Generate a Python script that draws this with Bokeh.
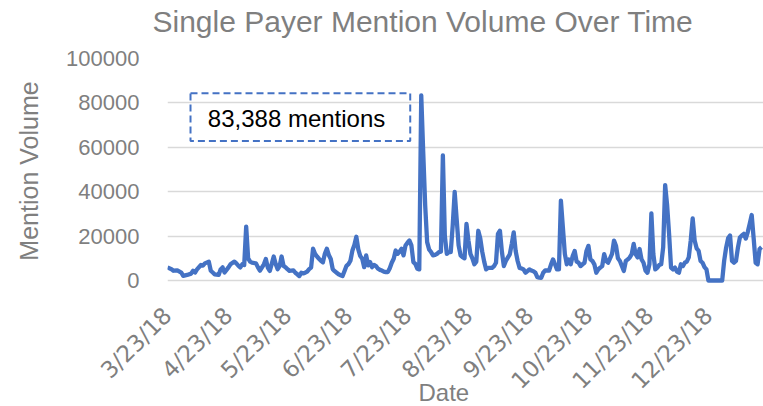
import pandas as pd
from bokeh.plotting import figure
from bokeh.models import Range1d, FixedTicker, BoxAnnotation, Label, ColumnDataSource, Title
from bokeh.embed import file_html
from bokeh.resources import INLINE
from math import pi

# ---- data (day offset from start date, mention volume) ----
start_date = "2018-03-23"
days = [0, 2, 3, 5, 7, 8, 10, 12, 13, 14, 15, 17, 18, 19, 21, 22, 23, 24, 26, 27, 28, 29,
        31, 32, 34, 35, 36, 37, 38, 39, 40, 41, 42, 43, 45, 46, 47, 49, 50, 51, 52, 53, 54,
        55, 56, 57, 58, 59, 60, 61, 62, 63, 64, 65, 66, 67, 68, 69, 70, 71, 72, 73, 74, 75,
        76, 77, 78, 79, 80, 81, 82, 83, 84, 85, 86, 87, 88, 89, 90, 91, 92, 93, 94, 95, 96,
        97, 98, 99, 100, 101, 102, 103, 104, 105, 106, 107, 108, 109, 110, 111, 112, 113,
        114, 115, 116, 117, 118, 119, 120, 121, 122, 123, 124, 125, 126, 127, 128, 129, 130,
        131, 132, 133, 134, 135, 136, 137, 138, 139, 140, 141, 142, 143, 144, 145, 146, 147,
        148, 149, 150, 151, 152, 153, 154, 155, 156, 157, 158, 159, 160, 161, 162, 163, 164,
        165, 166, 167, 168, 169, 170, 171, 172, 173, 174, 175, 176, 177, 178, 179, 180, 181,
        182, 183, 184, 185, 186, 187, 188, 189, 190, 191, 192, 193, 194, 195, 196, 197, 198,
        199, 200, 201, 202, 203, 204, 205, 206, 207, 208, 209, 210, 211, 212, 213, 214, 215,
        216, 217, 218, 219, 220, 221, 222, 223, 224, 225, 226, 227, 228, 229, 230, 231, 232,
        233, 234, 235, 236, 237, 238, 239, 240, 241, 242, 243, 244, 245, 246, 247, 248, 249,
        250, 251, 252, 253, 254, 255, 256, 257, 258, 259, 260, 261, 262, 263, 264, 265, 266,
        267, 268, 269, 270, 271, 272, 273, 274, 275, 278, 282, 283, 284, 285, 286, 287, 288,
        289, 290, 291, 292, 293, 294, 295, 296, 297, 298, 299, 300, 301, 302]
mentions = [5900, 5100, 4400, 4600, 3600, 2100, 2500, 3100, 4400, 3600, 5000, 7000, 6700,
            7700, 8500, 4400, 3600, 2800, 2500, 5000, 5900, 3600, 5900, 7300, 8500, 7700,
            6700, 5900, 7300, 7000, 24300, 10000, 8500, 8000, 7700, 5900, 4400, 7300, 9700,
            5800, 4300, 7500, 10800, 7400, 5100, 6500, 10800, 6600, 6000, 5100, 4300, 4500,
            4600, 3500, 2800, 2000, 3500, 3200, 3500, 4000, 5100, 5800, 14300, 12000, 10800,
            9800, 8900, 8200, 12000, 14300, 11500, 9700, 5100, 4200, 3500, 2800, 2400, 2000,
            4300, 6600, 7400, 8900, 13500, 16000, 19700, 14000, 11000, 9800, 6000, 11300,
            6800, 8300, 6000, 7000, 6500, 5300, 4800, 4500, 4000, 3800, 3800, 5500, 8000,
            9800, 13500, 12000, 13000, 14300, 11300, 15800, 17000, 18000, 15800, 8300, 7500,
            5300, 5000, 83388, 58000, 33900, 17300, 14000, 12800, 11300, 11500, 12000, 12800,
            13000, 56400, 20000, 12000, 12800, 12800, 24800, 39900, 27800, 15800, 11300,
            10500, 10000, 25500, 18000, 12000, 10000, 7300, 8500, 22400, 19000, 13000, 8500,
            5000, 5700, 5700, 5700, 6500, 8000, 21000, 22400, 13000, 6500, 8800, 10300, 11800,
            16400, 21700, 13300, 8800, 5700, 5400, 5000, 3500, 4200, 5000, 4500, 4200, 3500,
            1500, 1300, 1200, 3500, 4500, 4500, 4500, 7300, 9500, 7300, 5000, 5000, 36000,
            24000, 12000, 7300, 9500, 7300, 11000, 13300, 8500, 8000, 6500, 7300, 8000, 13300,
            15600, 9500, 8800, 7300, 3500, 5000, 5800, 6500, 11900, 8800, 8000, 10000, 12000,
            18000, 15700, 10000, 8800, 6500, 4300, 8800, 9500, 10400, 11900, 16500, 11900,
            10400, 14200, 9500, 8000, 4500, 3500, 7300, 30200, 11900, 5000, 5800, 7000, 7300,
            15000, 43000, 34000, 21000, 5800, 5000, 5800, 4000, 3500, 7300, 6500, 8000, 8500,
            10400, 18000, 28000, 18000, 14500, 13400, 8800, 8000, 6000, 5000, 0, 0, 0, 8900,
            14800, 19000, 20300, 8800, 8000, 8800, 14800, 19400, 20300, 21000, 18900, 21800,
            25600, 29500, 19000, 8000, 7300, 14200, 15000]

x_tick_labels = ["3/23/18", "4/23/18", "5/23/18", "6/23/18", "7/23/18",
                 "8/23/18", "9/23/18", "10/23/18", "11/23/18", "12/23/18"]
y_ticks = [0, 20000, 40000, 60000, 80000, 100000]
y_tick_labels = ["0", "20000", "40000", "60000", "80000", "100000"]

title_text = "Single Payer Mention Volume Over Time"
x_title = "Date"
y_title = "Mention Volume"

# ---- derived ----
t0 = pd.Timestamp(start_date)
x_ticks = [(pd.to_datetime(s, format="%m/%d/%y") - t0).days for s in x_tick_labels]
peak_val = max(mentions)

FONT = "Liberation Sans"
GRAY = "#7f7f7f"
BLUE = "#4472c4"

p = figure(width=763, height=406, output_backend="svg", toolbar_location=None,
           x_range=Range1d(0, 303), y_range=Range1d(-1350, 100000),
           min_border_left=167, min_border_right=0, min_border_top=58,
           min_border_bottom=123, title=None)
p.outline_line_color = None
p.background_fill_color = "white"
p.border_fill_color = "white"

src = ColumnDataSource(dict(x=days, y=mentions))
p.line("x", "y", source=src, line_color=BLUE, line_width=4.3, line_join="round")

# axes
p.xaxis.ticker = FixedTicker(ticks=x_ticks)
p.xaxis.major_label_overrides = {t: s for t, s in zip(x_ticks, x_tick_labels)}
p.xaxis.major_label_orientation = pi / 4
p.yaxis.ticker = FixedTicker(ticks=y_ticks)
p.yaxis.major_label_overrides = {t: s for t, s in zip(y_ticks, y_tick_labels)}
for ax in (p.xaxis[0], p.yaxis[0]):
    ax.axis_line_color = None
    ax.major_tick_line_color = None
    ax.minor_tick_line_color = None
    ax.major_label_text_font = FONT
    ax.major_label_text_color = GRAY
    ax.major_label_text_font_size = "22px"
    ax.axis_label_text_font = FONT
    ax.axis_label_text_color = GRAY
    ax.axis_label_text_font_style = "normal"
    ax.axis_label_text_font_size = "25px"
p.xaxis.major_label_text_font = "DejaVu Sans"
p.xaxis.major_label_text_font_size = "23px"
p.xaxis.major_label_standoff = 22
p.yaxis.major_label_standoff = 22
p.yaxis.axis_label = y_title
p.yaxis.axis_label_standoff = 20

p.xgrid.grid_line_color = None
p.ygrid.grid_line_color = "#d9d9d9"
p.ygrid.grid_line_width = 1.5

# annotation box around the peak label
p.add_layout(BoxAnnotation(left=11.7, right=123.4, bottom=62800, top=84400,
                           fill_alpha=0, line_color=BLUE, line_alpha=1.0,
                           line_width=2, line_dash="7 4"))
p.add_layout(Label(x=20.5, y=72800, text=f"{peak_val:,} mentions",
                   text_font=FONT, text_font_size="24px", text_color="black",
                   text_baseline="middle", text_align="left"))

# chart title, drawn up from the frame's top edge
p.add_layout(Title(text=title_text, text_font=FONT, text_font_size="30px",
                   text_color=GRAY, text_font_style="normal", align="left",
                   vertical_align="top", offset=-15, standoff=-108), "above")
# x-axis title, pulled up into the rotated tick-label band as in the reference
p.add_layout(Title(text=x_title, text_font=FONT, text_font_size="24px",
                   text_color=GRAY, text_font_style="normal", align="left",
                   vertical_align="top", offset=251, standoff=-53), "below")

open("out.html", "w").write(file_html(p, INLINE))
